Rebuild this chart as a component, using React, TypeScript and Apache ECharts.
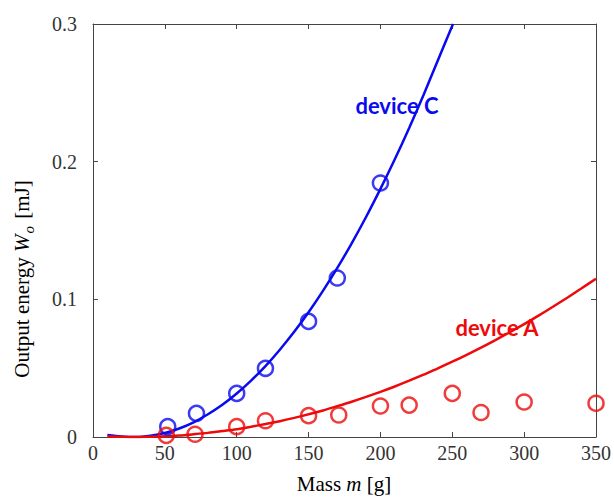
import React, { useEffect, useRef } from "react";
import * as echarts from "echarts";

// Measured data points (circles)
const massC = [52, 72, 100, 120, 150, 170, 200];
const energyC = [0.0075, 0.0172, 0.0317, 0.0499, 0.0840, 0.1155, 0.1845];

const massA = [51, 71, 100, 120, 150, 171, 200, 220, 250, 270, 300, 350];
const energyA = [0.0012, 0.002, 0.0075, 0.0118, 0.0155, 0.016, 0.0225, 0.0232, 0.0317, 0.0178, 0.0254, 0.0245];

// Fitted curves
const curveCX = [10, 20, 30, 40, 50, 60, 70, 80, 90, 100, 110, 120, 130, 140, 150, 160, 170, 180, 190, 200, 210, 220, 230, 240, 250.5];
const curveCY = [0.0015, 0.0004, 0.0, 0.0009, 0.0029, 0.0062, 0.0107, 0.0165, 0.0234, 0.0316, 0.041, 0.0515, 0.0634, 0.0764, 0.0906, 0.1061, 0.1228, 0.1407, 0.1598, 0.1802, 0.2017, 0.2245, 0.2485, 0.2737, 0.3];

const curveAX = [10, 20, 30, 40, 50, 60, 70, 80, 90, 100, 110, 120, 130, 140, 150, 160, 170, 180, 190, 200, 210, 220, 230, 240, 250, 260, 270, 280, 290, 300, 310, 320, 330, 340, 350];
const curveAY = [0.0004, 0.0001, 0.0, 0.0002, 0.0005, 0.0011, 0.002, 0.003, 0.0043, 0.0057, 0.0075, 0.0094, 0.0115, 0.0139, 0.0165, 0.0193, 0.0224, 0.0256, 0.0291, 0.0328, 0.0367, 0.0409, 0.0453, 0.0498, 0.0547, 0.0597, 0.0649, 0.0704, 0.0761, 0.082, 0.0882, 0.0946, 0.1012, 0.108, 0.115];

const xTicks = { min: 0, max: 350, interval: 50 };
const yTicks = { min: 0, max: 0.3, interval: 0.1 };

const BLUE = "#0a0af0";
const RED = "#ee0a0a";
const AXIS = "#444";
const SERIF = "'Liberation Serif', 'DejaVu Serif', serif";

export default function App() {
  const ref = useRef<HTMLDivElement>(null);
  useEffect(() => {
    if (!ref.current) return;
    const chart = echarts.init(ref.current, undefined, { renderer: "svg" });
    const pairs = (xs: number[], ys: number[]) => xs.map((x, i) => [x, ys[i]]);
    const axisCommon = {
      type: "value" as const,
      axisLine: { show: true, onZero: false, lineStyle: { color: AXIS, width: 1 } },
      axisTick: { show: true, inside: true, length: 5, lineStyle: { color: AXIS } },
      splitLine: { show: false },
    };
    chart.setOption({
      animation: false,
      backgroundColor: "#fff",
      grid: { left: 93, right: 13, top: 24, bottom: 63, containLabel: false },
      xAxis: [
        {
          ...axisCommon,
          ...xTicks,
          position: "bottom",
          axisLabel: { fontFamily: SERIF, fontSize: 20, color: "#333", margin: 6 },
        },
        {
          ...axisCommon,
          ...xTicks,
          position: "top",
          axisLabel: { show: false },
        },
      ],
      yAxis: [
        {
          ...axisCommon,
          ...yTicks,
          position: "left",
          axisLabel: {
            fontFamily: SERIF,
            fontSize: 20,
            color: "#333",
            margin: 16,
            formatter: (v: number) => (v === 0 ? "0" : v.toFixed(1)),
          },
        },
        {
          ...axisCommon,
          ...yTicks,
          position: "right",
          axisLabel: { show: false },
        },
      ],
      series: [
        {
          type: "line",
          data: pairs(curveCX, curveCY),
          smooth: 0.3,
          showSymbol: false,
          lineStyle: { color: BLUE, width: 2.5 },
          z: 2,
        },
        {
          type: "line",
          data: pairs(curveAX, curveAY),
          smooth: 0.3,
          showSymbol: false,
          lineStyle: { color: RED, width: 2.5 },
          z: 2,
        },
        {
          type: "scatter",
          data: pairs(massC, energyC),
          symbol: "circle",
          symbolSize: 15,
          itemStyle: { color: "transparent", borderColor: BLUE, borderWidth: 2.5 },
          z: 3,
        },
        {
          type: "scatter",
          data: pairs(massA, energyA),
          symbol: "circle",
          symbolSize: 15,
          itemStyle: { color: "transparent", borderColor: RED, borderWidth: 2.5 },
          z: 3,
        },
      ],
      graphic: [
        {
          type: "text",
          x: 397,
          y: 105,
          style: {
            text: "device C",
            fill: BLUE,
            font: "bold 22px Lato, 'Open Sans', sans-serif",
            textAlign: "center",
            textVerticalAlign: "middle",
          },
          z: 10,
        },
        {
          type: "text",
          x: 497,
          y: 327,
          style: {
            text: "device A",
            fill: RED,
            font: "bold 22px Lato, 'Open Sans', sans-serif",
            textAlign: "center",
            textVerticalAlign: "middle",
          },
          z: 10,
        },
        {
          type: "text",
          x: 344,
          y: 484,
          style: {
            text: "{n|Mass }{i|m}{n| [g]}",
            textAlign: "center",
            textVerticalAlign: "middle",
            rich: {
              n: { fontFamily: SERIF, fontSize: 21, color: "#333" },
              i: { fontFamily: SERIF, fontSize: 21, fontStyle: "italic", color: "#333" },
            },
          },
        },
        {
          type: "text",
          x: 22,
          y: 279,
          rotation: Math.PI / 2,
          style: {
            text: "{n|Output energy }{i|W}{s|o}{n| [mJ]}",
            textAlign: "center",
            textVerticalAlign: "middle",
            rich: {
              n: { fontFamily: SERIF, fontSize: 21, lineHeight: 28, color: "#333" },
              i: { fontFamily: SERIF, fontSize: 21, lineHeight: 28, fontStyle: "italic", color: "#333" },
              s: { fontFamily: SERIF, fontSize: 15, lineHeight: 15, fontStyle: "italic", color: "#333", verticalAlign: "bottom", padding: [0, 2, 0, 1] },
            },
          },
        },
      ],
    });
    return () => chart.dispose();
  }, []);
  return (
    <div
      ref={ref}
      style={{ position: "fixed", left: 0, top: 0, width: 614, height: 500 }}
    />
  );
}
